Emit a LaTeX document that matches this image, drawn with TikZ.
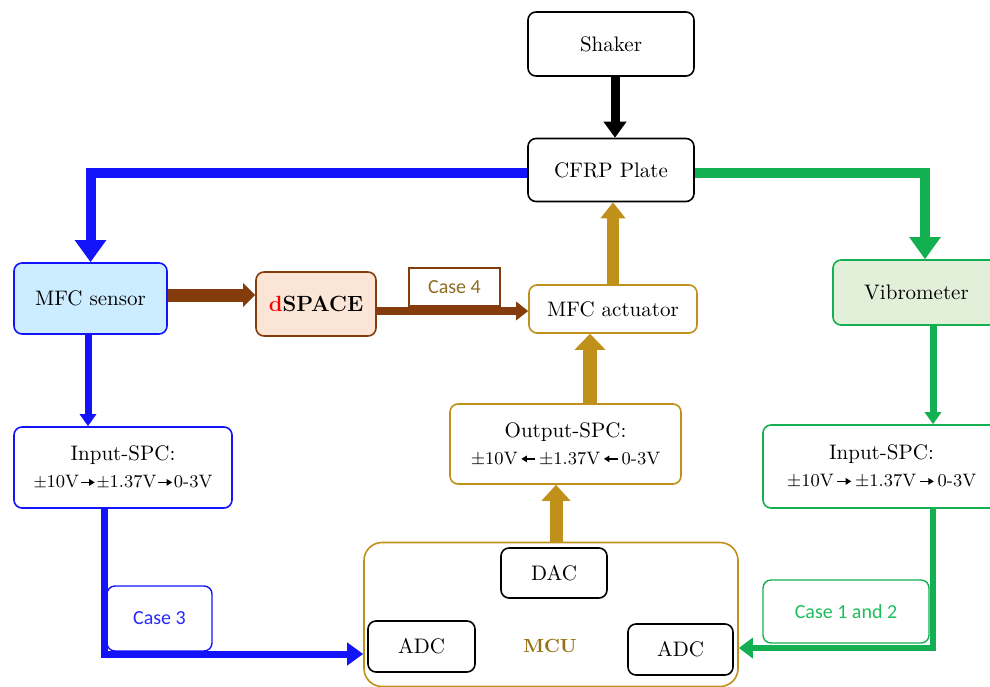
\documentclass[tikz,border=0pt]{standalone}
\usepackage{fontspec}
\newfontfamily\calibri{Carlito}
\usetikzlibrary{arrows.meta,calc}
\definecolor{blueC}{RGB}{20,20,250}
\definecolor{greenC}{RGB}{18,176,80}
\definecolor{goldC}{RGB}{191,144,26}
\definecolor{brownC}{RGB}{132,60,12}
\definecolor{caseFour}{RGB}{140,108,30}
\definecolor{mcuC}{RGB}{150,112,20}
\definecolor{caseThree}{RGB}{40,40,255}
\definecolor{caseOneTwo}{RGB}{30,190,90}
\definecolor{fillBlue}{RGB}{204,236,255}
\definecolor{fillPeach}{RGB}{251,229,214}
\definecolor{fillGreen}{RGB}{226,240,217}
\newcommand{\arrbody}{\tikz[baseline=-2.6pt,x=1pt,y=1pt]\draw[black,line width=0.7pt,-{Triangle[length=2.8pt,width=3.2pt]}](0,0)--(7pt,0);}
\newcommand{\rarr}{\,\arrbody\,}
\newcommand{\rarrtight}{\hspace{0.5pt}\arrbody\hspace{0.5pt}}
\newcommand{\larr}{\,\tikz[baseline=-2.6pt,x=1pt,y=1pt]\draw[black,line width=0.7pt,{Triangle[length=2.8pt,width=3.2pt]}-](0,0)--(7pt,0);\,}
\begin{document}
\begin{tikzpicture}[x=0.5pt,y=-0.5pt,
  box/.style={draw, rounded corners=4pt, line width=0.8pt, align=center, inner sep=0pt,
    font=\fontsize{10.5}{13.5}\selectfont},
  casebox/.style={draw, rounded corners=4pt, line width=0.7pt, align=center, inner sep=0pt,
    font=\calibri\fontsize{10}{12}\selectfont}]
\useasboundingbox (0,0) rectangle (990,686);

% nodes
\node[box, minimum width=83pt, minimum height=32pt] (shaker) at (611,44) {Shaker};
\node[box, minimum width=83pt, minimum height=31.5pt] (cfrp) at (611,170) {CFRP Plate};
\node[box, draw=blueC, fill=fillBlue, minimum width=76.5pt, minimum height=35.5pt] (sensor) at (90.5,298.5) {MFC sensor};
\node[box, draw=brownC, fill=fillPeach, minimum width=60pt, minimum height=32pt,
  font=\bfseries\fontsize{11}{13}\selectfont] (dspace) at (316,304) {\textcolor{red}{d}SPACE};
\node[casebox, draw=brownC, rounded corners=0pt, text=caseFour, minimum width=45.5pt, minimum height=19pt] (case4) at (454.5,287) {Case 4};
\node[box, draw=goldC, minimum width=84pt, minimum height=24pt] (act) at (613,309) {MFC actuator};
\node[box, draw=goldC, minimum width=115.5pt, minimum height=40pt] (outspc) at (565.5,444)
  {Output-SPC:\\{\fontsize{9}{11}\selectfont $\pm$10V\larr$\pm$1.37V\larr0-3V}};
\node[box, draw=goldC, minimum width=187pt, minimum height=72pt, rounded corners=9pt] (mcu) at (551,614.5) {};
\node[font=\bfseries\fontsize{9.5}{11}\selectfont, text=mcuC] (mculabel) at (550,646) {MCU};
\node[box, minimum width=53pt, minimum height=25pt] (dac) at (554,573) {DAC};
\node[box, minimum width=53.5pt, minimum height=25.5pt] (adcl) at (421.5,646.5) {ADC};
\node[box, minimum width=52.5pt, minimum height=25.5pt] (adcr) at (680.5,649.5) {ADC};
\node[box, draw=greenC, fill=fillGreen, minimum width=83.5pt, minimum height=32.5pt] (vib) at (916.5,292.5) {Vibrometer};
\node[box, draw=blueC, minimum width=109pt, minimum height=40.5pt] (inl) at (123,467.5)
  {Input-SPC:\\{\fontsize{9}{11}\selectfont {\fontsize{8}{10}\selectfont$\pm$}10V\rarrtight{\fontsize{8}{10}\selectfont$\pm$}1.37V\rarrtight0-3V}};
\node[box, draw=greenC, minimum width=118.5pt, minimum height=41.5pt] (inr) at (881.5,466.5)
  {Input-SPC:\\{\fontsize{9}{11}\selectfont $\pm$10V\rarr$\pm$1.37V\rarr0-3V}};
\node[casebox, draw=blueC, text=caseThree, minimum width=52.5pt, minimum height=32.5pt] (case3) at (159.5,618.5) {Case 3};
\node[casebox, draw=greenC, text=caseOneTwo, minimum width=83pt, minimum height=31.5pt] (case12) at (846,611.5) {Case 1 and 2};

% coordinates
\coordinate (shk) at ($(shaker.south)+(4,0)$);
\coordinate (cw) at ($(cfrp.west)+(0,3)$);
\coordinate (ce) at ($(cfrp.east)+(0,3)$);
\coordinate (vn) at ($(vib.north)+(8.5,0)$);
\coordinate (ss) at ($(sensor.south)+(-2.5,0)$);
\coordinate (se) at ($(sensor.east)+(0,-3.5)$);
\coordinate (de) at ($(dspace.east)+(0,7)$);
\coordinate (ilb) at ($(inl.south)+(-19,0)$);
\coordinate (bcorner) at (104,654);
\coordinate (vs) at ($(vib.south)+(16.5,0)$);
\coordinate (irb) at ($(inr.south)+(51.5,0)$);
\coordinate (gcorner) at (933,648);
\coordinate (osn) at ($(outspc.north)+(24.5,0)$);
\coordinate (mn) at ($(mcu.north)+(5,0)$);

% connectors
\draw[line width=4.5pt, -{Triangle[length=8pt,width=11pt]}] (shk) -- (shk |- cfrp.north);
\draw[blueC, line width=5pt, -{Triangle[length=11pt,width=15pt]}] (cw) -| (sensor.north);
\draw[greenC, line width=5pt, -{Triangle[length=11pt,width=15pt]}] (ce) -| (vn |- vib.north);
\draw[goldC, line width=6pt, -{Triangle[length=8pt,width=12pt]}] (act.north) -- (act.north |- cfrp.south);
\draw[goldC, line width=7pt, -{Triangle[length=8pt,width=15pt]}] (osn |- outspc.north) -- (osn |- act.south);
\draw[goldC, line width=6.5pt, -{Triangle[length=8pt,width=14pt]}] (mn) -- (mn |- outspc.south);
\draw[brownC, line width=6.5pt, -{Triangle[length=6pt,width=11.5pt]}] (se) -- (se -| dspace.west);
\draw[brownC, line width=4pt, -{Triangle[length=6pt,width=9pt]}] (de) -- (de -| act.west);
\draw[blueC, line width=3.5pt, -{Triangle[length=6pt,width=8pt]}] (ss) -- (ss |- inl.north);
\draw[blueC, line width=3.5pt, -{Triangle[length=8pt,width=11pt]}] (ilb) -- (bcorner) -- (bcorner -| mcu.west);
\draw[greenC, line width=3.5pt, -{Triangle[length=6pt,width=8pt]}] (vs) -- (vs |- inr.north);
\draw[greenC, line width=3.2pt, -{Triangle[length=7pt,width=10pt]}] (irb) -- (gcorner) -- (gcorner -| mcu.east);
\end{tikzpicture}
\end{document}
